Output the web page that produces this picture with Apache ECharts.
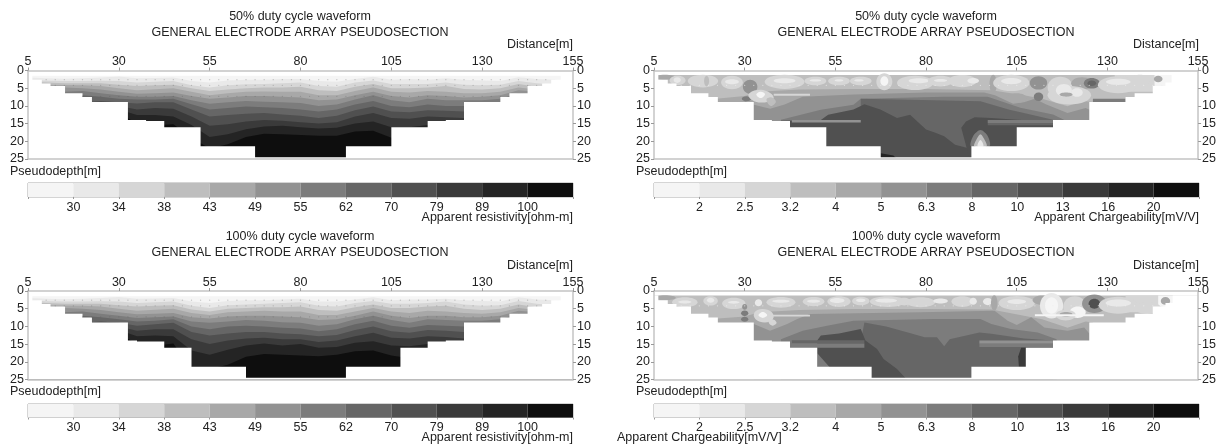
<!DOCTYPE html>
<html><head><meta charset="utf-8">
<style>html,body{margin:0;padding:0;background:#fff}#c{width:1219px;height:444px;filter:blur(0.5px)}</style>
<script src="https://cdn.jsdelivr.net/npm/echarts@6/dist/echarts.min.js"></script></head>
<body><div id="c"></div>
<script>
const classColors=['#f5f5f5','#e9e9e9','#d6d6d6','#bebebe','#a8a8a8','#929292','#7c7c7c','#666666','#505050','#3a3a3a','#242424','#0e0e0e'];
const resistivityTicks=['30','34','38','43','49','55','62','70','79','89','100'];
const chargeabilityTicks=['2','2.5','3.2','4','5','6.3','8','10','13','16','20'];
const resSurveyDepths=[2.6,4.2,7.3];
const chgSurveyDepths=[4.2];
const surveySpots=[10,12.5,15,17.5,20,22.5,25,27.5,30,32.5,35,37.5,40,42.5,45,47.5,50,52.5,55,57.5,60,62.5,65,67.5,70,72.5,75,77.5,80,82.5,85,87.5,90,92.5,95,97.5,100,102.5,105,107.5,110,112.5,115,117.5,120,122.5,125,127.5,130,132.5,135,137.5,140,142.5,145,147.5,150];

// lower edge of each pseudosection: [end distance, depth]
const floorRes50=[[6.2,1.3],[8.8,2.6],[11.2,3.7],[15.2,4.4],[20,6.4],[22.6,7.5],[32.5,8.9],[37.5,14],[42.5,14.3],[52.5,16],[67.5,21.4],[92.5,24.5],[105,21.4],[115,16],[120,14.3],[125,14],[135,8.9],[137.5,7.5],[142.5,6.4],[146.5,4.4],[149,3.7],[151.6,2.6],[155,1.3]];
const floorRes100=[[6.2,1.3],[8.8,2.6],[11.2,3.7],[15.2,4.4],[20,6.4],[22.6,7.5],[32.5,8.9],[35,14],[42.5,14.3],[50,16],[65,21.4],[92.5,24.5],[107.5,21.4],[115,16],[120,14.3],[125,14],[135,8.9],[137.5,7.5],[142.5,6.4],[146.5,4.4],[149,3.7],[151.6,2.6],[155,1.3]];
const floorChg50=[[6.2,1.3],[8.8,2.6],[11.2,3.7],[15.2,4.4],[20,6.4],[22.6,7.5],[32.5,8.9],[37.5,14],[42.5,14.3],[52.5,16],[67.5,21.4],[92.5,24.5],[105,21.4],[115,16],[125,14],[135,8.9],[137.5,7.5],[142.5,6.4],[146,4.4],[147.7,3.4],[155,1.3]];
const floorChg100=[[6.2,1.3],[8.8,2.6],[11.2,3.7],[15.2,4.4],[20,6.4],[22.6,7.5],[32.5,8.9],[37.5,14],[42.5,14.3],[50,16],[65,21.4],[92.5,24.5],[107.5,21.4],[115,16],[125,14],[135,8.9],[137.5,7.5],[142.5,6.4],[146,4.4],[148,3.4],[155,1.3]];

// resistivity: depth of each class boundary at every station
const resStations=[5,10,15,20,25,30,35,40,45,50,55,60,65,70,75,80,85,90,95,100,105,110,115,120,125,130,135,140,145,150,155];
const res50Depths=[
[2,2.6,3.2,4,5,6,8,10,12,14,18],[2.2,2.9,3.4,4,5,6,8,10,12,14,18],[2.3,3,3.6,4.1,4.8,6,8,10,12,14,18],[2.2,3,3.6,4.2,5,5.8,7,9,12,14,18],[2,2.9,3.6,4.4,5.4,6.4,7.4,8.6,12,14,18],[1.7,3,4,5,6,7,8,9,10,11,12],[2.2,3.4,4.4,5.6,6.6,7.4,8.2,9.3,11,12.6,15],[2.1,3.2,4.2,5.3,6.4,7.4,8.2,9,10.6,12.6,15.5],[2,3,4,5,6.2,7.2,8,9,10.8,13,15.2],[3,4.2,5,6,7.2,8.4,9.5,11,13,15.4,19],
[3.4,4.8,5.8,7,8,9.4,11,13,15.6,18.8,22],[2.8,4.2,5.4,6.4,7.6,9,10.6,12.6,15.2,18,20.8],[2.6,3.9,5,6,7.2,8.6,10.2,12.2,14.4,16.6,18.8],[2.6,3.8,4.8,5.9,7.2,8.8,10.4,12,14,15.8,17.9],[2.4,3.6,4.8,6,7.4,9,10.6,12.4,14.2,15.6,18],[2.4,3.4,4.6,6,7.6,9.2,11,12.8,14.6,16,18.2],[3,4.4,5.6,7,8.4,10,11.6,13.4,15,16.4,18.4],[3.2,4.6,5.8,7,8.2,9.6,11,12.8,14.6,16.2,18.4],[2.4,3.4,4.6,5.8,7,8.2,9.6,11.2,13,15,17.2],[1.8,2.8,3.8,4.8,6,7,8.6,10.2,12,14.4,17],
[2.6,3.8,5,6,7.2,8.4,10,11.6,13.4,16,19],[2.4,3.8,5,6.2,7.6,9,10.4,11.8,13.6,16,19],[2.6,3.8,4.8,5.8,7,8,9.6,11.2,13,15.4,19],[2.2,3.4,4.4,6,7.2,8.4,10,11.4,13.2,15,19],[2.6,4,5.2,6.4,7.6,8.4,10,11.6,13.4,15,19],[2.8,4.2,5.4,6.4,7.4,8.4,10,12,14,16,19],[3,4,5,6,7,8,9,12,14,16,19],[1.9,3,3.8,4.8,5.6,6.4,7,9,14,16,19],[2.4,3.6,4.6,5.4,6,7,8,9,14,16,19],[2.6,4,5,6,7,8,9,10,14,16,19],[3,4,5,6,7,8,9,10,14,16,19]];
const res100Depths=[
[2,2.6,3.2,4,5,6,8,10,12,14,18],[2.2,2.9,3.4,4,5,6,8,10,12,14,18],[2.3,3,3.6,4.1,4.8,6,8,10,12,14,18],[2.2,3,3.6,4.2,5,5.8,7,9,12,14,18],[2,2.9,3.6,4.4,5.4,6.4,7.4,8.6,12,14,18],[1.7,3,4,5,6,7,8,9,10,11,12],[2.2,3.4,4.4,5.6,6.6,7.6,8.6,9.8,11.2,12.8,15],[2.1,3.2,4.2,5.3,6.4,7.4,8.4,9.4,10.8,12.6,15.5],[2,3,4,5,6.2,7.2,8,9,10.8,12.8,14.8],[3,4.2,5.2,6.2,7.4,8.6,10,11.6,13.6,16.8,22],
[3.4,4.8,5.8,6.8,7.8,9,10.8,12.6,15,18,22],[2.8,4,5,6,7.2,8.6,10,12,14,16.6,20.8],[2.6,3.8,4.8,5.8,7,8.2,9.8,11.6,13.4,15.4,18.6],[2.6,3.6,4.6,5.6,7,8.4,10,11.6,13.2,14.8,17.8],[2.4,3.4,4.6,5.8,7.2,8.8,10.4,12,13.6,15.4,18],[2.2,3.2,4.4,5.8,7.4,9,10.6,12.2,13.6,15,18.2],[3,4.2,5.4,6.8,8.2,9.8,11.4,12.8,14.4,16,18.4],[3,4.4,5.6,6.8,8,9.4,10.8,12.4,14,15.8,18],[2.4,3.4,4.6,5.8,7,8,9.4,11,12.8,14.6,17],[1.8,2.8,3.8,4.8,5.8,7,8.4,10,11.8,14.2,16.8],
[2.6,3.6,4.8,5.8,7,8.2,9.8,11.4,13.2,15.4,18.2],[2.4,3.6,4.8,6.2,7.6,9,10.4,11.8,13.4,15.6,19],[2.4,3.4,4.4,5.6,7,8,9.6,11,12.8,15,19],[2.2,3,4.2,5.8,7,8.2,9.8,11.2,13,14.8,19],[2.6,3.8,5,6.2,7.4,8.4,10,11.6,13.4,15,19],[2.8,4.2,5.4,6.4,7.4,8.4,10,12,14,16,19],[3,4,5,6,7,8,9,12,14,16,19],[1.8,2.8,3.8,4.8,5.6,6.4,7,9,14,16,19],[2.4,3.6,4.6,5.4,6,7,8,9,14,16,19],[2.6,4,5,6,7,8,9,10,14,16,19],[3,4,5,6,7,8,9,10,14,16,19]];

// chargeability: filled regions [class, x,d, x,d, ...], painted in order
const chg50Regions=[
[3, 5,1.3, 155,1.3, 155,25, 5,25],
[2, 132,1.3, 155,1.3, 155,6, 132,6],
[0, 143,1.3, 155,1.3, 155,5, 143,5],
[4, 20,8.2, 30,7.2, 34,6, 45,5.4, 60,5.2, 80,5.2, 98,5.6, 107,7, 112,8, 119,10.1, 123,8.6, 126,8.9, 126,25, 20,25],
[5, 30,8.6, 32,9.5, 37,10.8, 41,9.6, 46,7.4, 60,6.8, 80,6.2, 96,6.2, 99,7, 104,9.4, 107,9, 110,8, 113,9.5, 119,12, 124,10.6, 126,11.5, 126,25, 30,25],
[6, 40,13.9, 51,11.1, 60,9.7, 62,8, 85,7.4, 97,7.4, 106,10.5, 115,12.4, 118,13.9, 118,25, 40,25],
[7, 62,8, 82,8.4, 95,8.7, 103,11.1, 107,12, 115,13.9, 115,25, 62,25],
[8, 40,14.2, 51,14, 53,12.5, 60,11, 63,9.5, 67.4,11, 72,13.4, 75.6,12.5, 80,16.7, 82.4,17.5, 85,18.6, 88,21, 92,22, 92.5,25, 40,25],
[8, 89.7,16.2, 91,14.4, 93.4,13.2, 98,13.4, 105,13.9, 115,14.4, 115,25, 92,25],
[10, 67.5,23.4, 71,24, 72,25, 67.5,25]
];
const chg50Blobs=[
[4,8,1.9,3,0.7],[2,11.5,2.8,2.2,1.3],[1,11.4,2.7,1,0.8],[2,18.5,3,4.2,1.8],[3,19.5,3,0.7,1.5],[2,26.5,3.4,3,1.9],[1,26.5,3.2,1.9,0.7],[5,31.5,4.6,2,2],[6,30.5,8,1.3,0.7],
[2,41,3.2,5.5,2],[1,41,2.9,3,0.7],[2,49.5,3,3,1.2],[1,49.5,2.8,1.6,0.3],[2,56,3,3,1.2],[1,56,2.8,1.2,0.3],[2,62,3,3,1.2],[1,61.5,2.8,1.3,0.3],
[2,68.5,3.2,2.2,2.4],[0,68.5,3,1.1,1.4],[2,77,3.5,5,2],[1,78,2.9,2.8,0.7],[2,84,3,3.5,1.5],[1,84,2.8,1.8,0.4],[2,90,3,4,1.7],[1,93,2.9,1.6,0.8],
[4,98.5,3.8,1,2.6],[2,103.5,3.5,5,2.3],[1,103.5,3,2.8,0.9],[4,105,7.8,2.8,1.4],[6,111,7.4,1.3,1.2],[5,111,3.5,2.4,1.9],[2,117,4.8,3.5,3],[4,123,3.7,3,1.8],[6,125.7,3.6,2.2,1.5],[7,125.7,3.6,1.2,0.8],
[2,119.5,7,6,2.6],[1,118,5.6,2.2,1.8],[1,121.6,6.2,1.6,1.2],[4,118.6,6.8,1.8,0.6],[2,133,4,5.6,2.4],[1,133,3.2,3.4,0.9],[4,144,2.4,1.2,0.9],[2,139,2.8,2.6,1.6]
];
const chg50Strips=[[5,43,14,62,14.7],[2,38,6.6,48,7.1],[6,97,14,115,14.8],[7,97,14.8,115,15.5],[6,126,8,135,8.9]];
const chg50Extras=[[2,31,7,33,5.6,36,5.8,38,7.6,36.5,8.8,33,8.8],[0,33.2,6.8,34.4,6,35.6,6.7,34.4,7.8],[3,36,8.2,37.4,7.6,38.6,8.8,37.2,10]];
const chg50Ghost=[[6,92.4,21.4,93,18.5,95,16.8,97,18.5,97.5,21.4],[3,93.3,21.4,94,19.3,95,18,96,19.3,96.7,21.4],[1,94.2,21.4,94.5,20.2,95,19.6,95.5,20.2,95.8,21.4]];

const chg100Regions=[
[3, 5,1.3, 155,1.3, 155,25, 5,25],
[2, 135,1.3, 155,1.3, 155,6, 135,6],
[0, 144,1.3, 155,1.3, 155,5, 144,5],
[4, 20,8, 30,7.2, 34,6, 45,5.4, 60,5.1, 80,5.1, 98,5.2, 107,7, 112,8, 119,10.4, 124,8.6, 126,8.9, 126,25, 20,25],
[5, 32.5,9.3, 37,11.2, 41.7,9.3, 44.5,7.9, 48,6.5, 78.4,6, 98.9,5.6, 102.5,8.4, 105,9.6, 109,7.4, 112.6,10.3, 119,11.2, 123.6,10.3, 125,12, 125,25, 32.5,25],
[6, 40,13.6, 46,11.2, 52.7,9.8, 60,8.4, 82,7.9, 95,7.9, 98,9.3, 103.4,10.7, 110.8,11.7, 116,13.6, 116,25, 40,25],
[7, 63,8.9, 69,10, 76,12, 79.6,13.1, 83,13.1, 85,15.6, 86.5,13.6, 94.7,11.7, 98,12.1, 107,13.4, 115,14, 115,25, 60,25],
[8, 50,14, 51,12.6, 56,12, 62,10.7, 63.3,14, 66.5,16.4, 68.3,19.2, 72,22, 74.7,25, 50,25],
[6, 50,17.6, 53.5,21.6, 50,21.6],
[9, 106.2,16, 107.6,16, 107.6,21.4, 105.6,21.4, 105.4,18.5]
];
const chg100Blobs=[
[4,8,1.9,3,0.7],[2,13.5,3.2,3.5,1.4],[1,13.5,3.1,1.8,0.4],[2,20.6,2.8,2,1.3],[1,20.6,2.6,1,0.7],[2,27,3.5,3.2,1.6],[1,27,3.2,1.6,0.4],[5,30,4.5,0.7,0.8],[6,30,6.3,1,0.8],[6,30,8,1,0.7],
[1,33.8,3.3,1,1],[2,40,3.2,4,1.5],[1,40,2.9,2.4,0.4],[2,49,3,3,1.3],[1,49,2.9,1.8,0.4],[2,56,3,3.2,1.5],[1,55.5,2.7,2,0.7],[2,62,2.8,2.4,1.2],[1,62,2.6,1.3,0.5],[2,69.5,3,5,1.5],[1,69,2.7,3,0.6],
[2,74,3,1.8,1.1],[2,78.5,3.2,4,1.4],[1,84,2.8,2,0.7],[2,90,3,3,1.5],[1,93,2.9,1,1],[1,97,3,1.3,1],[4,98.8,3.4,0.9,2.2],[2,105,3.4,5,2],[1,105,3,2.6,0.7],[4,112,2.6,2.6,1.3],
[1,114.6,4.2,3.2,3.6],[0,114.6,4.1,1.8,2.3],[2,121,4.5,3.2,3],[0,121.8,6,2.2,1.6],[2,118.5,6.8,2.8,1.5],[4,118.6,6.6,1.8,0.7],[5,126.4,3.6,3.4,2.6],[8,126.4,3.6,1.6,1.4],[2,133,4,5.4,2.4],[1,133,3.4,3.5,1],[2,141,4.8,3.8,1.6],[4,146,2.8,1.3,1.1]
];
const chg100Strips=[[7,43,13.9,63,14.8],[6,43,14.8,63,16],[2,37,6.7,48,7.2],[0,110,6.6,129,7.1],[5,94.7,14,115,14.9],[6,94.7,14.9,115,15.8]];
const chg100Extras=[[2,32.5,7,33.5,5.4,36.5,5.4,38,7,37,8.6,34,8.6],[0,33.8,6.8,35,5.9,36.2,6.8,35,7.6],[2,36.6,8.8,37.7,8,38.8,9,37.7,9.8]];

const titleTop=['50% duty cycle waveform','GENERAL ELECTRODE ARRAY PSEUDOSECTION'];
const titleBottom=['100% duty cycle waveform','GENERAL ELECTRODE ARRAY PSEUDOSECTION'];

const INK='#222';const EDGE='#c4c4c4';const FONT='"Liberation Sans",Arial,sans-serif';const SIZE=12.5;
const grid=[],xAxis=[],yAxis=[],series=[],graphic=[];
function flatPoly(a){const p=[];for(let i=1;i<a.length;i+=2)p.push([a[i],a[i+1]]);return p;}
function resShapes(st,tb){
  const s=[{c:0,pts:[[5,1.5],[155,1.5],[155,25],[5,25]]}];
  for(let k=0;k<11;k++){
    const top=st.map((x,i)=>[x,Math.min(tb[i][k],25)]);
    s.push({c:k+1,pts:top.concat([[155,25],[5,25]])});
  }
  return s;
}
function chgShapes(regions,blobs,extras,strips,ghost){
  const s=[];
  regions.forEach(r=>s.push({c:r[0],pts:flatPoly(r)}));
  blobs.forEach(b=>s.push({c:b[0],e:b.slice(1)}));
  extras.forEach(r=>s.push({c:r[0],pts:flatPoly(r),smooth:.4}));
  ghost.forEach(r=>s.push({c:r[0],pts:flatPoly(r),smooth:.3}));
  strips.forEach(r=>s.push({c:r[0],pts:[[r[1],r[2]],[r[3],r[2]],[r[3],r[4]],[r[1],r[4]]]}));
  return s;
}
function maskShape(floor){
  const pts=[[5,1.3]];let x=5;
  floor.forEach(f=>{pts.push([x,f[1]]);pts.push([f[0],f[1]]);x=f[0];});
  pts.push([155,1.3],[155,25.5],[5,25.5]);
  return {white:true,pts};
}
function floorAt(floor,x){let prev=5;for(const f of floor){if(x>=prev&&x<f[0])return f[1];prev=f[0];}return 0;}
function panel(left,top,shapes,floor,surveyDepths,dotLight){
  const g=grid.length;
  grid.push({left:left,top:top,width:545,height:88.5});
  const ax=xAxis.length,ay=yAxis.length;
  const lbl={color:INK,fontSize:SIZE,fontFamily:FONT};
  xAxis.push({gridIndex:g,type:'value',position:'top',min:5,max:155,interval:25,z:10,splitLine:{show:false},
    axisLine:{show:true,onZero:false,lineStyle:{color:EDGE,width:1.5}},axisTick:{show:true,length:3,lineStyle:{color:'#999'}},axisLabel:Object.assign({margin:2},lbl)});
  xAxis.push({gridIndex:g,type:'value',position:'bottom',min:5,max:155,interval:25,z:10,splitLine:{show:false},
    axisLine:{show:true,onZero:false,lineStyle:{color:EDGE,width:1.5}},axisTick:{show:false},axisLabel:{show:false}});
  yAxis.push({gridIndex:g,type:'value',position:'left',inverse:true,min:0,max:25,interval:5,z:10,splitLine:{show:false},
    axisLine:{show:true,onZero:false,lineStyle:{color:EDGE,width:1.5}},axisTick:{show:true,length:3,lineStyle:{color:'#999'}},axisLabel:Object.assign({margin:4},lbl)});
  yAxis.push({gridIndex:g,type:'value',position:'right',inverse:true,min:0,max:25,interval:5,z:10,splitLine:{show:false},
    axisLine:{show:true,onZero:false,lineStyle:{color:EDGE,width:1.5}},axisTick:{show:true,length:3,lineStyle:{color:'#999'}},axisLabel:Object.assign({margin:4},lbl)});
  const items=shapes.concat([maskShape(floor)]);
  series.push({type:'custom',coordinateSystem:'cartesian2d',xAxisIndex:ax,yAxisIndex:ay,clip:true,silent:true,z:2,
    data:items.map((_,i)=>[i]),encode:{x:[],y:[]},
    renderItem:(p,api)=>{
      const it=items[p.dataIndex];
      const fill=it.white?'#ffffff':classColors[it.c];
      if(it.e){
        const o=api.coord([it.e[0],it.e[1]]),k=api.coord([it.e[0]+it.e[2],it.e[1]+it.e[3]]);
        return {type:'ellipse',shape:{cx:o[0],cy:o[1],rx:Math.abs(k[0]-o[0]),ry:Math.abs(k[1]-o[1])},style:{fill}};
      }
      return {type:'polygon',shape:{points:it.pts.map(q=>api.coord(q)),smooth:it.smooth||0},style:{fill}};
    }});
  const dots=[];
  surveyDepths.forEach(d=>surveySpots.forEach(x=>{if(d<floorAt(floor,x))dots.push([x,d]);}));
  series.push({type:'scatter',xAxisIndex:ax,yAxisIndex:ay,symbolSize:1.3,silent:true,z:3,data:dots,
    itemStyle:{color:dotLight?'#eeeeee':'#555',opacity:dotLight?0.7:0.3}});
}
function legend(left,top,h,ticks){
  const g=grid.length;
  grid.push({left:left,top:top,width:545,height:h,show:true,borderColor:'#aaa',borderWidth:1});
  xAxis.push({gridIndex:g,type:'value',position:'bottom',min:0,max:12,interval:1,splitLine:{show:false},
    axisLine:{show:false},axisTick:{show:true,length:2,lineStyle:{color:'#999'}},
    axisLabel:{color:INK,fontSize:SIZE,fontFamily:FONT,margin:4,formatter:v=>(v>=1&&v<=11)?ticks[v-1]:''}});
  yAxis.push({gridIndex:g,type:'value',min:0,max:1,show:false});
  series.push({type:'custom',coordinateSystem:'cartesian2d',xAxisIndex:xAxis.length-1,yAxisIndex:yAxis.length-1,silent:true,z:2,
    data:classColors.map((_,i)=>[i]),encode:{x:[],y:[]},
    renderItem:(p,api)=>{const a=api.coord([p.dataIndex,1]),b=api.coord([p.dataIndex+1,0]);
      return {type:'rect',shape:{x:a[0],y:a[1],width:b[0]-a[0],height:b[1]-a[1]},style:{fill:classColors[p.dataIndex]}};}});
}
function txt(s,x,y,align){graphic.push({type:'text',x:x,y:y,silent:true,style:{text:s,fill:INK,font:SIZE+'px '+FONT,textAlign:align,textVerticalAlign:'middle'}});}

panel(28,70.5,resShapes(resStations,res50Depths),floorRes50,resSurveyDepths,false);
panel(654,70.5,chgShapes(chg50Regions,chg50Blobs,chg50Extras,chg50Strips,chg50Ghost),floorChg50,chgSurveyDepths,true);
panel(28,291,resShapes(resStations,res100Depths),floorRes100,resSurveyDepths,false);
panel(654,291,chgShapes(chg100Regions,chg100Blobs,chg100Extras,chg100Strips,[]),floorChg100,chgSurveyDepths,true);
legend(28,183,14,resistivityTicks);
legend(654,183,14,chargeabilityTicks);
legend(28,404,13.5,resistivityTicks);
legend(654,404,13.5,chargeabilityTicks);

txt(titleTop[0],300,16.5,'center');txt(titleTop[1],300,32.5,'center');
txt(titleTop[0],926,16.5,'center');txt(titleTop[1],926,32.5,'center');
txt(titleBottom[0],300,236.5,'center');txt(titleBottom[1],300,252.5,'center');
txt(titleBottom[0],926,236.5,'center');txt(titleBottom[1],926,252.5,'center');
txt('Distance[m]',573,45,'right');txt('Distance[m]',1199,45,'right');
txt('Distance[m]',573,265.5,'right');txt('Distance[m]',1199,265.5,'right');
txt('Pseudodepth[m]',10,172,'left');txt('Pseudodepth[m]',636,172,'left');
txt('Pseudodepth[m]',10,392,'left');txt('Pseudodepth[m]',636,392,'left');
txt('Apparent resistivity[ohm-m]',573,217.5,'right');
txt('Apparent Chargeability[mV/V]',1199,217.5,'right');
txt('Apparent resistivity[ohm-m]',573,438,'right');
txt('Apparent Chargeability[mV/V]',617,438,'left');

const chart=echarts.init(document.getElementById('c'),null,{renderer:'canvas'});
chart.setOption({animation:false,backgroundColor:'#fff',grid,xAxis,yAxis,series,graphic});
</script></body></html>
